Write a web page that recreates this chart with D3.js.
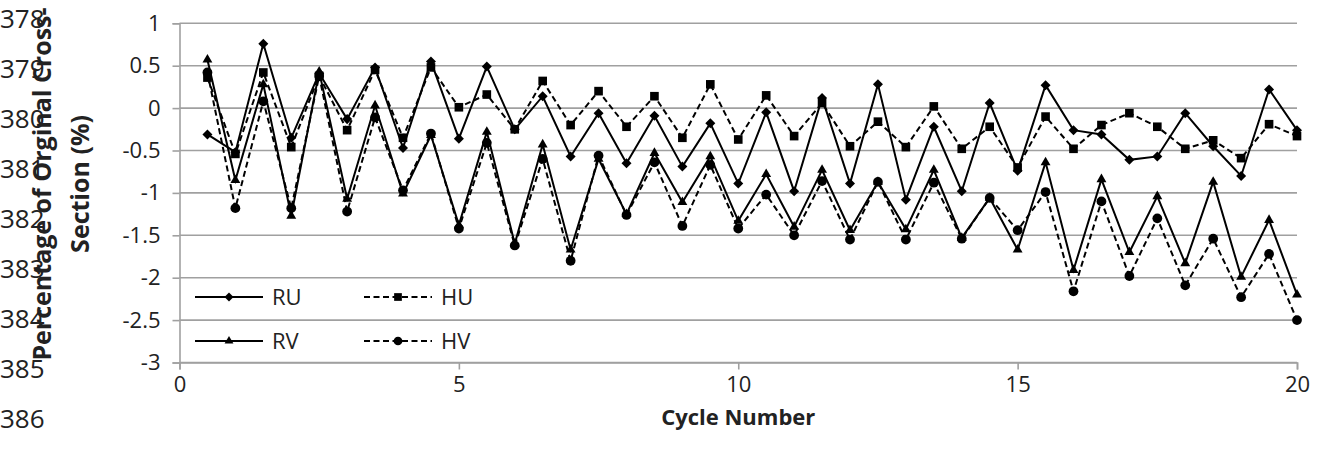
<!DOCTYPE html>
<html>
<head>
<meta charset="utf-8">
<script src="https://cdn.jsdelivr.net/npm/d3@7"></script>
<style>
  body { margin: 0; background: #fff; }
  svg { display: block; }
  .tick_label { font-family: "Open Sans", sans-serif; font-size: 22px; fill: #222; }
  .line_number { font-family: "Open Sans", sans-serif; font-size: 26px; fill: #222; }
  .axis_title { font-family: "Open Sans", sans-serif; font-size: 22px; font-weight: bold; fill: #222; }
</style>
</head>
<body>
<svg id="chart" width="1320" height="459"></svg>
<script>
// cycle numbers (x) and the four series
var cycles = [0.5, 1, 1.5, 2, 2.5, 3, 3.5, 4, 4.5, 5, 5.5, 6, 6.5, 7, 7.5, 8, 8.5, 9, 9.5, 10,
              10.5, 11, 11.5, 12, 12.5, 13, 13.5, 14, 14.5, 15, 15.5, 16, 16.5, 17, 17.5, 18, 18.5, 19, 19.5, 20];

var ru = [-0.31, -0.52, 0.76, -0.35, 0.41, -0.13, 0.48, -0.47, 0.55, -0.36,
          0.49, -0.25, 0.14, -0.57, -0.06, -0.65, -0.09, -0.69, -0.18, -0.89,
          -0.05, -0.98, 0.12, -0.89, 0.28, -1.08, -0.22, -0.98, 0.06, -0.74,
          0.27, -0.26, -0.31, -0.61, -0.57, -0.06, -0.45, -0.80, 0.22, -0.26];

var hu = [0.36, -0.54, 0.42, -0.46, 0.38, -0.26, 0.45, -0.35, 0.48, 0.01,
          0.16, -0.25, 0.32, -0.20, 0.20, -0.22, 0.14, -0.35, 0.28, -0.37,
          0.15, -0.33, 0.06, -0.45, -0.16, -0.46, 0.02, -0.48, -0.22, -0.70,
          -0.10, -0.48, -0.20, -0.06, -0.22, -0.48, -0.38, -0.59, -0.19, -0.33];

var rv = [0.57, -0.85, 0.28, -1.27, 0.43, -1.07, 0.03, -1.01, -0.32, -1.38,
          -0.28, -1.60, -0.43, -1.67, -0.60, -1.25, -0.53, -1.11, -0.57, -1.33,
          -0.78, -1.40, -0.73, -1.44, -0.87, -1.43, -0.73, -1.53, -1.06, -1.67,
          -0.64, -1.91, -0.84, -1.70, -1.04, -1.83, -0.87, -1.99, -1.32, -2.20];

var hv = [0.42, -1.18, 0.08, -1.18, 0.38, -1.22, -0.11, -0.97, -0.30, -1.42,
          -0.41, -1.62, -0.60, -1.80, -0.56, -1.26, -0.64, -1.39, -0.67, -1.42,
          -1.02, -1.50, -0.86, -1.55, -0.87, -1.55, -0.88, -1.54, -1.06, -1.44,
          -0.99, -2.16, -1.10, -1.98, -1.30, -2.09, -1.54, -2.23, -1.72, -2.50];

var x_ticks = [0, 5, 10, 15, 20];
var y_ticks = [1, 0.5, 0, -0.5, -1, -1.5, -2, -2.5, -3];
// stray document line numbers down the left margin
var line_numbers = ["378", "379", "380", "381", "382", "383", "384", "385", "386"];

var series = [
    {name: "RU", values: ru, dashed: false, symbol: d3.symbolDiamond2, size: 64},
    {name: "HU", values: hu, dashed: true,  symbol: d3.symbolSquare2,  size: 95},
    {name: "RV", values: rv, dashed: false, symbol: d3.symbolTriangle2, size: 70},
    {name: "HV", values: hv, dashed: true,  symbol: d3.symbolCircle,  size: 75}
];

var svg = d3.select("#chart");

var plot_left = 179.5, plot_right = 1297, plot_top = 23.3, plot_bottom = 362.5;

var x = d3.scaleLinear().domain([0, 20]).range([plot_left, plot_right]);
var y = d3.scaleLinear().domain([-3, 1]).range([plot_bottom, plot_top]);

// line numbers first, everything else draws over them
svg.selectAll(".line_number")
    .data(line_numbers)
    .enter().append("text")
    .attr("class", "line_number")
    .attr("x", 0)
    .attr("y", function(d, i) { return 19 + i * 50; })
    .attr("dy", "0.35em")
    .text(function(d) { return d; });

// horizontal gridlines
svg.selectAll(".grid")
    .data(y_ticks)
    .enter().append("line")
    .attr("class", "grid")
    .attr("x1", plot_left)
    .attr("x2", plot_right)
    .attr("y1", function(d) { return y(d); })
    .attr("y2", function(d) { return y(d); })
    .attr("stroke", "#a0a0a0")
    .attr("stroke-width", 1.6);

// y axis
var y_axis = svg.append("g")
    .attr("transform", "translate(" + plot_left + ",0)")
    .call(d3.axisLeft(y).tickValues(y_ticks).tickSize(7).tickPadding(12)
        .tickFormat(function(d) { return d3.format("")(d).replace("−", "-"); }));
y_axis.select(".domain").attr("stroke", "#a0a0a0").attr("stroke-width", 1.6);
y_axis.selectAll(".tick line").attr("stroke", "#a0a0a0").attr("stroke-width", 1.6);
y_axis.selectAll(".tick text").attr("class", "tick_label").attr("font-family", null).attr("font-size", null).attr("fill", null);

// x axis
var x_axis = svg.append("g")
    .attr("transform", "translate(0," + plot_bottom + ")")
    .call(d3.axisBottom(x).tickValues(x_ticks).tickSize(7).tickPadding(7));
x_axis.select(".domain").attr("stroke", "#a0a0a0").attr("stroke-width", 1.6);
x_axis.selectAll(".tick line").attr("stroke", "#a0a0a0").attr("stroke-width", 1.6);
x_axis.selectAll(".tick text").attr("class", "tick_label").attr("font-family", null).attr("font-size", null).attr("fill", null);

// axis titles
svg.append("text")
    .attr("class", "axis_title")
    .attr("x", (plot_left + plot_right) / 2)
    .attr("y", 417)
    .attr("dy", "0.35em")
    .attr("text-anchor", "middle")
    .text("Cycle Number");

var y_title = svg.append("text")
    .attr("class", "axis_title")
    .attr("transform", "translate(0,184) rotate(-90)")
    .attr("text-anchor", "middle")
    .style("font-size", "25px");
y_title.append("tspan").attr("x", 0).attr("y", 42).attr("dy", "0.35em").text("Percentage of Orginal Cross-");
y_title.append("tspan").attr("x", 0).attr("y", 80).attr("dy", "0.35em").text("Section (%)");

// series lines and markers
var line = d3.line()
    .x(function(d) { return x(d[0]); })
    .y(function(d) { return y(d[1]); });

series.forEach(function(s) {
    var pts = cycles.map(function(c, i) { return [c, s.values[i]]; });

    svg.append("path")
        .datum(pts)
        .attr("d", line)
        .attr("fill", "none")
        .attr("stroke", "#000")
        .attr("stroke-width", 2)
        .attr("stroke-dasharray", s.dashed ? "6,3.5" : null);

    svg.selectAll(".marker_" + s.name)
        .data(pts)
        .enter().append("path")
        .attr("class", "marker_" + s.name)
        .attr("d", d3.symbol().type(s.symbol).size(s.size))
        .attr("transform", function(d) { return "translate(" + x(d[0]) + "," + y(d[1]) + ")"; })
        .attr("fill", "#000");
});

// legend, two columns by two rows
var legend_cols = [195, 364];
var legend_rows = [297, 341];

var legend = svg.selectAll(".legend_item")
    .data(series)
    .enter().append("g")
    .attr("class", "legend_item")
    .attr("transform", function(d, i) {
        return "translate(" + legend_cols[i % 2] + "," + legend_rows[Math.floor(i / 2)] + ")";
    });

legend.append("line")
    .attr("x1", 0).attr("x2", 68)
    .attr("y1", 0).attr("y2", 0)
    .attr("stroke", "#000")
    .attr("stroke-width", 2)
    .attr("stroke-dasharray", function(d) { return d.dashed ? "6,3.5" : null; });

legend.append("path")
    .attr("d", function(d) { return d3.symbol().type(d.symbol).size(d.size * 0.8)(); })
    .attr("transform", "translate(34,0)")
    .attr("fill", "#000");

legend.append("text")
    .attr("class", "tick_label")
    .attr("x", 77)
    .attr("y", 0)
    .attr("dy", "0.35em")
    .text(function(d) { return d.name; });
</script>
</body>
</html>
